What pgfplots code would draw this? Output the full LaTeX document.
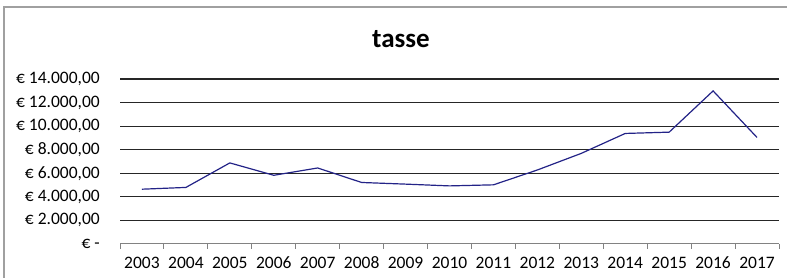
\documentclass[border=0pt]{standalone}
\usepackage{pgfplots}
\pgfplotsset{compat=1.18}
\usepackage{fontspec}
\setmainfont{Carlito}
\definecolor{navyline}{RGB}{35,35,135}
\definecolor{framegray}{RGB}{160,160,160}
\definecolor{axisgray}{RGB}{130,130,130}
\begin{document}
\begin{tikzpicture}[x=1pt,y=1pt]
\useasboundingbox (0,0) rectangle (787,278);
\draw[framegray, line width=1.6pt] (4,0) -- (4,271) -- (787,271);
\node[font=\fontsize{27}{30}\selectfont\bfseries, anchor=base] at (401,230) {tasse};
\begin{axis}[
  at={(120pt,34pt)}, anchor=south west,
  width=659pt, height=165pt, scale only axis,
  xmin=-0.5, xmax=14.5, ymin=0, ymax=14000,
  scaled y ticks=false,
  axis line style={draw=none},
  tick style={draw=none},
  xtick={0,...,14},
  xticklabels={2003,2004,2005,2006,2007,2008,2009,2010,2011,2012,2013,2014,2015,2016,2017},
  ytick={0,2000,...,14000},
  yticklabels={{€ -\hspace{5pt}},{€ 2.000,00},{€ 4.000,00},{€ 6.000,00},{€ 8.000,00},{€ 10.000,00},{€ 12.000,00},{€ 14.000,00}},
  tick label style={font=\fontsize{17.5}{20}\selectfont},
  yticklabel style={anchor=east, inner sep=0pt, xshift=-20pt},
  xticklabel style={anchor=base, inner sep=0pt, yshift=-25pt},
  major tick length=0pt,
  clip=false,
]
\foreach \v in {2000,4000,...,14000} {
  \edef\tmp{\noexpand\draw[black!85, line width=1.2pt] (axis cs:-0.5,\v) -- (axis cs:14.5,\v);}
  \tmp
}
\draw[axisgray, line width=1pt] (axis cs:-0.5,0) -- (axis cs:14.5,0);
\foreach \t in {-0.5,0.5,...,14.5} {
  \edef\tmp{\noexpand\draw[axisgray, line width=1pt] (axis cs:\t,0) -- ([yshift=-5pt]axis cs:\t,0);}
  \tmp
}
\addplot[navyline, line width=1.2pt, mark=none] coordinates {
(0,4650) (1,4800) (2,6880) (3,5830) (4,6450) (5,5220) (6,5080) (7,4930)
(8,5020) (9,6280) (10,7690) (11,9380) (12,9490) (13,12990) (14,9040)
};
\end{axis}
\end{tikzpicture}
\end{document}
